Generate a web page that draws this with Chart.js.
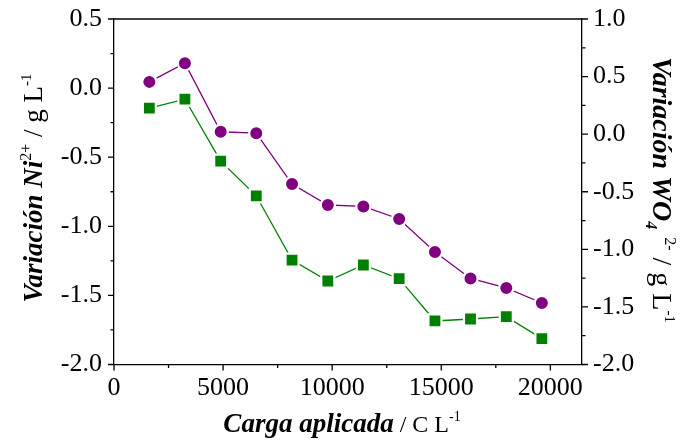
<!DOCTYPE html>
<html>
<head>
<meta charset="utf-8">
<script src="https://cdn.jsdelivr.net/npm/chart.js@4"></script>
<style>
  html, body { margin: 0; padding: 0; background: #fff; }
  #wrap { width: 680px; height: 445px; }
</style>
</head>
<body>
<div id="wrap"><canvas id="plot" width="680" height="445"></canvas></div>
<script>
// values
const cargaX = [1620, 3250, 4890, 6520, 8160, 9800, 11430, 13070, 14710, 16340, 17980, 19610];
const niVar = [0.045, 0.18, -0.316, -0.326, -0.694, -0.846, -0.856, -0.947, -1.186, -1.377, -1.446, -1.555];
const wo4Var = [0.226, 0.304, -0.234, -0.535, -1.093, -1.275, -1.136, -1.255, -1.622, -1.605, -1.585, -1.775];

const xTicks = [0, 5000, 10000, 15000, 20000];
const niTicks = [-2.0, -1.5, -1.0, -0.5, 0.0, 0.5];
const wo4Ticks = [-2.0, -1.5, -1.0, -0.5, 0.0, 0.5, 1.0];

const serif = '"Liberation Serif", "Times New Roman", serif';

function pts(xs, ys) {
    var out = [];
    for (var i = 0; i < xs.length; i++) out.push({ x: xs[i], y: ys[i] });
    return out;
}

// draws a line of text made of pieces with their own font and vertical shift
function richText(ctx, parts, size) {
    var total = 0;
    parts.forEach(function (p) {
        ctx.font = p.style + ' ' + Math.round(size * (p.scale || 1)) + 'px ' + serif;
        p.w = ctx.measureText(p.t).width;
        total += p.w;
    });
    var x = -total / 2;
    parts.forEach(function (p) {
        ctx.font = p.style + ' ' + Math.round(size * (p.scale || 1)) + 'px ' + serif;
        ctx.fillText(p.t, x, (p.dy || 0) * size);
        x += p.w;
    });
}

const frame = {
    id: 'frame',
    afterDraw(chart) {
        var ctx = chart.ctx, a = chart.chartArea;
        var sx = chart.scales.x, sy = chart.scales.y, sy1 = chart.scales.y1;
        ctx.save();
        ctx.strokeStyle = '#000';
        ctx.lineWidth = 1.3;
        // top edge
        ctx.beginPath();
        ctx.moveTo(a.left, a.top);
        ctx.lineTo(a.right, a.top);
        ctx.stroke();
        // tick marks, major and minor
        ctx.beginPath();
        for (var v = 0; v <= 20000; v += 2500) {
            var px = sx.getPixelForValue(v);
            var len = (v % 5000 === 0) ? 6 : 3.5;
            ctx.moveTo(px, a.bottom);
            ctx.lineTo(px, a.bottom + len);
        }
        for (var k = 0; k <= 10; k++) {
            var val = -2 + k * 0.25;
            var py = sy.getPixelForValue(val);
            var l2 = (k % 2 === 0) ? 6 : 3.5;
            ctx.moveTo(a.left, py);
            ctx.lineTo(a.left - l2, py);
        }
        for (var j = 0; j <= 12; j++) {
            var val1 = -2 + j * 0.25;
            var py1 = sy1.getPixelForValue(val1);
            var l3 = (j % 2 === 0) ? 6 : 3.5;
            ctx.moveTo(a.right, py1);
            ctx.lineTo(a.right + l3, py1);
        }
        ctx.stroke();

        // axis titles
        ctx.fillStyle = '#000';
        ctx.textBaseline = 'alphabetic';
        ctx.textAlign = 'left';
        var bi = 'italic bold', rg = 'normal';

        ctx.save();
        ctx.translate(342, 432);
        richText(ctx, [
            { t: 'Carga aplicada', style: bi },
            { t: ' / C L', style: rg, scale: 0.9 },
            { t: '-1', style: rg, scale: 0.5, dy: -0.42 }
        ], 27);
        ctx.restore();

        ctx.save();
        ctx.translate(42, 188);
        ctx.rotate(-Math.PI / 2);
        richText(ctx, [
            { t: 'Variación Ni', style: bi },
            { t: '2+', style: rg, scale: 0.58, dy: -0.42 },
            { t: ' / g L', style: rg },
            { t: '-1', style: rg, scale: 0.55, dy: -0.42 }
        ], 27);
        ctx.restore();

        ctx.save();
        ctx.translate(653, 190);
        ctx.rotate(Math.PI / 2);
        richText(ctx, [
            { t: 'Variación WO', style: bi },
            { t: '4', style: bi, scale: 0.58, dy: 0.25 },
            { t: '  2-', style: rg, scale: 0.58, dy: -0.42 },
            { t: ' / g L', style: rg },
            { t: '-1', style: rg, scale: 0.55, dy: -0.42 }
        ], 28);
        ctx.restore();

        ctx.restore();
    }
};

function axisBase() {
    return {
        grid: { display: true, drawOnChartArea: false, drawTicks: false },
        border: { display: true, color: '#000', width: 1.3 }
    };
}

var xAxis = axisBase();
xAxis.type = 'linear';
xAxis.position = 'bottom';
xAxis.min = 0;
xAxis.max = 21450;
xAxis.afterBuildTicks = function (s) { s.ticks = xTicks.map(function (v) { return { value: v }; }); };
xAxis.ticks = { color: '#000', padding: 8, font: { family: serif, size: 26 }, callback: function (v) { return String(v); } };
xAxis.afterFit = function (s) { s.height = 80.5; };

var yAxis = axisBase();
yAxis.type = 'linear';
yAxis.position = 'left';
yAxis.min = -2;
yAxis.max = 0.5;
yAxis.afterBuildTicks = function (s) { s.ticks = niTicks.map(function (v) { return { value: v }; }); };
yAxis.ticks = { color: '#000', padding: 12, font: { family: serif, size: 26 }, callback: function (v) { return v.toFixed(1); } };
yAxis.afterFit = function (s) { s.width = 114; s.paddingTop = 0; s.paddingBottom = 0; };

var y1Axis = axisBase();
y1Axis.type = 'linear';
y1Axis.position = 'right';
y1Axis.min = -2;
y1Axis.max = 1;
y1Axis.afterBuildTicks = function (s) { s.ticks = wo4Ticks.map(function (v) { return { value: v }; }); };
y1Axis.ticks = { color: '#000', padding: 11, font: { family: serif, size: 26 }, callback: function (v) { return v.toFixed(1); } };
y1Axis.afterFit = function (s) { s.width = 98; s.paddingTop = 0; s.paddingBottom = 0; };

var chart = new Chart(document.getElementById('plot').getContext('2d'), {
    type: 'line',
    data: {
        datasets: [
            {
                label: 'Ni2+', data: pts(cargaX, niVar), yAxisID: 'y',
                borderColor: '#800080', backgroundColor: '#800080', borderWidth: 1.3,
                pointStyle: 'circle', pointRadius: 7.1, pointBorderColor: '#fff', pointBorderWidth: 2.2,
                pointBackgroundColor: '#800080', tension: 0
            },
            {
                label: 'WO42-', data: pts(cargaX, wo4Var), yAxisID: 'y1',
                borderColor: '#008000', backgroundColor: '#008000', borderWidth: 1.3,
                pointStyle: 'rect', pointRadius: 9.2, pointBorderColor: '#fff', pointBorderWidth: 2.2,
                pointBackgroundColor: '#008000', tension: 0
            }
        ]
    },
    options: {
        responsive: false,
        animation: false,
        devicePixelRatio: 1,
        layout: { padding: { top: 19, left: 0, right: 0, bottom: 0 } },
        plugins: { legend: { display: false }, tooltip: { enabled: false } },
        scales: { x: xAxis, y: yAxis, y1: y1Axis }
    },
    plugins: [frame]
});
</script>
</body>
</html>
